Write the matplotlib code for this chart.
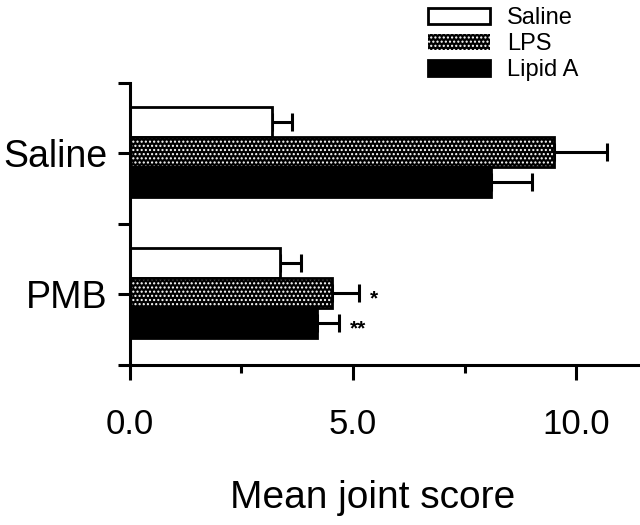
import numpy as np
import matplotlib
matplotlib.use('Agg')
import matplotlib.pyplot as plt
from matplotlib.patches import Patch

# data
groups = ['Saline', 'PMB']
series = ['Saline', 'LPS', 'Lipid A']
means = {
    'Saline': [3.18, 3.36],
    'LPS': [9.50, 4.53],
    'Lipid A': [8.09, 4.19],
}
errors = {
    'Saline': [0.45, 0.47],
    'LPS': [1.20, 0.60],
    'Lipid A': [0.92, 0.50],
}
marks = {'LPS': ['', '*'], 'Lipid A': ['', '**']}

plt.rcParams['font.family'] = ['Liberation Sans', 'DejaVu Sans']

fig = plt.figure(figsize=(6.4, 5.25), dpi=100)
ax = fig.add_axes([0.203, 0.305, 0.797, 0.537])

ypos = np.array([1.0, 0.0])
offsets = {'Saline': 0.225, 'LPS': 0.01, 'Lipid A': -0.205}
height = 0.215

for name in series:
    y = ypos + offsets[name]
    vals = means[name]
    if name == 'LPS':
        # dark base with white dotted hatch, then black outline on top
        ax.barh(y, vals, height=height, color='black', edgecolor='white',
                hatch='....', linewidth=0, zorder=2)
        ax.barh(y, vals, height=height, fill=False, edgecolor='black',
                linewidth=2, zorder=3)
    elif name == 'Saline':
        ax.barh(y, vals, height=height, color='white', edgecolor='black',
                linewidth=2, zorder=2)
    else:
        ax.barh(y, vals, height=height, color='black', edgecolor='black',
                linewidth=2, zorder=2)
    ax.errorbar(vals, y, xerr=[np.zeros(len(vals)), errors[name]], fmt='none',
                ecolor='black', elinewidth=2.2, capsize=6.5, capthick=2.2, zorder=1)
    if name in marks:
        for v, e, yy, m in zip(vals, errors[name], y, marks[name]):
            if m:
                ax.text(v + e + 0.25, yy - 0.04, m, fontsize=15, fontweight='bold',
                        ha='left', va='center')

ax.set_xlim(0, 11.43)
ax.set_ylim(-0.5, 1.5)

ax.set_xticks([0, 5, 10])
ax.set_xticklabels(['0.0', '5.0', '10.0'], fontsize=25)
ax.set_xticks([2.5, 7.5], minor=True)
ax.set_yticks([-0.5, 0.0, 0.5, 1.0, 1.5])
ax.set_yticklabels(['', 'PMB', '', 'Saline', ''], fontsize=27)

ax.tick_params(axis='x', which='major', length=11, width=2.2, pad=20)
ax.tick_params(axis='x', which='minor', length=6, width=2.2)
ax.tick_params(axis='y', which='major', length=9, width=2.2, pad=7)

for s in ['top', 'right']:
    ax.spines[s].set_visible(False)
for s in ['left', 'bottom']:
    ax.spines[s].set_linewidth(2.2)

ax.set_xlabel('Mean joint score', fontsize=28)
ax.xaxis.set_label_coords(0.475, -0.41)

handles = [
    Patch(facecolor='white', edgecolor='black', linewidth=2),
    Patch(facecolor='black', edgecolor='white', hatch='....', linewidth=0),
    Patch(facecolor='black', edgecolor='black', linewidth=2),
]
leg = fig.legend(handles, series, loc='upper left', bbox_to_anchor=(0.636, 1.027),
                 frameon=False, fontsize=17, handlelength=2.6, handleheight=0.64,
                 labelspacing=0.17, handletextpad=0.75)

plt.savefig('out.png', dpi=100)
